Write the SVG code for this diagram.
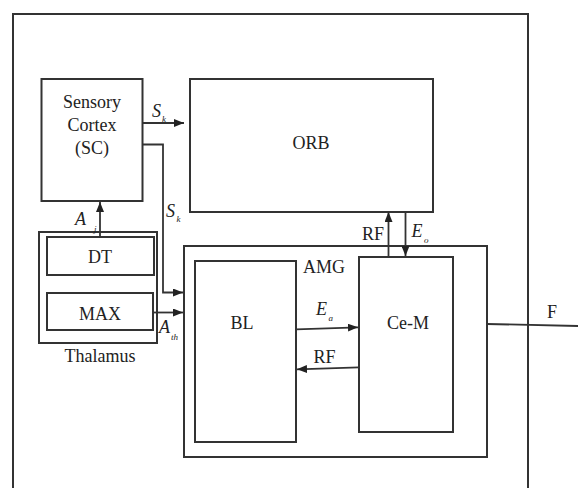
<svg xmlns="http://www.w3.org/2000/svg" width="578" height="488" viewBox="0 0 578 488">
<defs>
<marker id="ah" viewBox="0 0 10 8" refX="10" refY="4" markerWidth="10" markerHeight="8" markerUnits="userSpaceOnUse" orient="auto">
<path d="M0,0 L10,4 L0,8 Z" fill="#222"/>
</marker>
</defs>
<style>
.box{fill:#fff;stroke:#333;stroke-width:2}
.ln{fill:none;stroke:#333;stroke-width:1.8}
text{font-family:'Liberation Serif','Times New Roman','DejaVu Serif',serif;fill:#222}
.t{font-size:18px}
.i{font-style:italic;font-size:18px}
.s{font-style:italic;font-size:9px}
</style>
<rect width="578" height="488" fill="#fff"/>
<g id="frame"><rect class="box" x="13" y="14" width="515" height="490"/></g>
<g id="sc"><rect class="box" x="41.5" y="79" width="101" height="122"/>
<text class="t" text-anchor="middle" x="92" y="108">Sensory</text>
<text class="t" text-anchor="middle" x="92" y="131">Cortex</text>
<text class="t" text-anchor="middle" x="92" y="154">(SC)</text></g>
<g id="orb"><rect class="box" x="190" y="79" width="243" height="133"/>
<text class="t" text-anchor="middle" x="311" y="149">ORB</text></g>
<g id="thalamus"><rect class="box" x="39" y="232" width="118" height="111"/>
<text class="t" text-anchor="middle" x="100" y="362">Thalamus</text></g>
<g id="dt"><rect class="box" x="47" y="237" width="107" height="38"/>
<text class="t" text-anchor="middle" x="100" y="263">DT</text></g>
<g id="max"><rect class="box" x="47" y="293" width="106" height="37"/>
<text class="t" text-anchor="middle" x="100" y="320">MAX</text></g>
<g id="amg"><rect class="box" x="184" y="246" width="303" height="211"/>
<text class="t" x="303" y="273">AMG</text></g>
<g id="bl"><rect class="box" x="195" y="261" width="101" height="181"/>
<text class="t" text-anchor="middle" x="242" y="329">BL</text></g>
<g id="cem"><rect class="box" x="359" y="257" width="94" height="175"/>
<text class="t" text-anchor="middle" x="408" y="329">Ce-M</text></g>
<g id="connectors">
<line class="ln" x1="142.5" y1="123" x2="184" y2="123" marker-end="url(#ah)"/>
<polyline class="ln" points="142.5,144.5 163,144.5 163,292.5 183,292.5" marker-end="url(#ah)"/>
<line class="ln" x1="153" y1="312.5" x2="183" y2="312.5" marker-end="url(#ah)"/>
<line class="ln" x1="100" y1="237" x2="100" y2="202" marker-end="url(#ah)"/>
<line class="ln" x1="388.5" y1="257" x2="388.5" y2="212" marker-end="url(#ah)"/>
<line class="ln" x1="405.5" y1="212" x2="405.5" y2="256" marker-end="url(#ah)"/>
<line class="ln" x1="296" y1="329.3" x2="358" y2="327.3" marker-end="url(#ah)"/>
<line class="ln" x1="359" y1="367.3" x2="297" y2="369.3" marker-end="url(#ah)"/>
<line class="ln" x1="487" y1="324" x2="578" y2="326"/>
</g>
<g id="labels">
<text class="i" x="152" y="117">S</text><text class="s" x="162" y="122">k</text>
<text class="i" x="166" y="216.5">S</text><text class="s" x="176.5" y="222">k</text>
<text class="i" x="75" y="225">A</text><text class="s" x="94" y="232">j</text>
<text class="i" x="159" y="333">A</text><text class="s" x="171" y="340">th</text>
<text class="t" x="362" y="240">RF</text>
<text class="i" x="411.5" y="237">E</text><text class="s" x="424" y="243">o</text>
<text class="i" x="316" y="315">E</text><text class="s" x="328.5" y="321">a</text>
<text class="t" x="313.5" y="363">RF</text>
<text class="t" x="547" y="318">F</text>
</g>
</svg>
